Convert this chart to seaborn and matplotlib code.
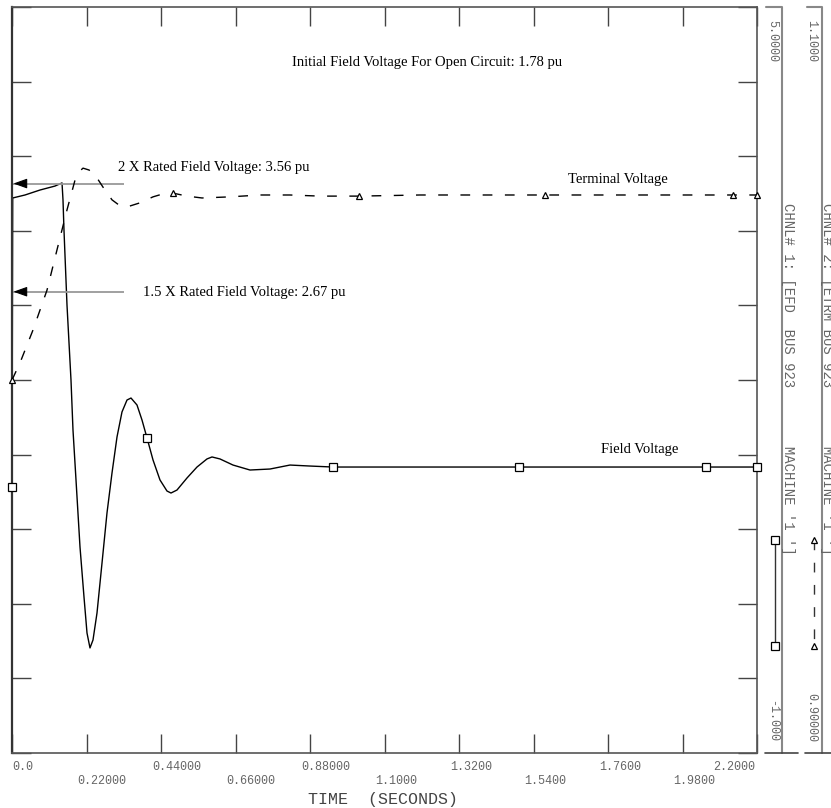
import matplotlib
matplotlib.use('Agg')
import matplotlib.pyplot as plt
from matplotlib.lines import Line2D
import seaborn as sns

# values (PSS/E style channel plot)
# channel 1: EFD, field voltage, scale -1 .. 5
efd_time = [0.0, 0.002, 0.0384, 0.0827, 0.127, 0.1477, 0.1506, 0.1536, 0.1624,
            0.1742, 0.1801, 0.189, 0.2008, 0.2126, 0.2215, 0.2303, 0.2392, 0.251,
            0.2658, 0.2805, 0.2953, 0.3101, 0.3248, 0.3396, 0.3514, 0.3691, 0.3839,
            0.3987, 0.4164, 0.437, 0.4577, 0.4695, 0.4872, 0.5168, 0.5463, 0.5758,
            0.5906, 0.6142, 0.6526, 0.7028, 0.7619, 0.8209, 0.88, 0.948, 2.2]
efd_value = [1.139, 3.464, 3.488, 3.528, 3.560, 3.585, 3.448, 3.199, 2.603,
             2.0, 1.598, 1.196, 0.657, 0.255, -0.035, -0.155, -0.091, 0.126,
             0.528, 0.930, 1.252, 1.542, 1.743, 1.839, 1.855, 1.799, 1.678,
             1.534, 1.357, 1.196, 1.107, 1.091, 1.115, 1.212, 1.300, 1.365,
             1.381, 1.365, 1.316, 1.276, 1.284, 1.316, 1.308, 1.300, 1.300]

# channel 2: ETRM, terminal voltage, scale 0.9 .. 1.1
etrm_time = [0.0, 0.0236, 0.062, 0.1034, 0.1329, 0.1624, 0.1861, 0.1979, 0.2097,
             0.2274, 0.2451, 0.2688, 0.2953, 0.316, 0.3396, 0.378, 0.4164, 0.4459,
             0.4754, 0.5168, 0.5611, 0.6438, 0.7324, 0.8209, 0.9095, 1.0247,
             1.2048, 1.4411, 1.574, 1.8545, 2.1291, 2.2]
etrm_value = [1.0, 1.0046, 1.0134, 1.0241, 1.0349, 1.0456, 1.0536, 1.0558, 1.0568,
              1.0563, 1.0550, 1.0517, 1.0483, 1.0469, 1.0464, 1.0475, 1.0491, 1.0499,
              1.0501, 1.0493, 1.0488, 1.0491, 1.0496, 1.0496, 1.0493, 1.0493,
              1.0496, 1.0496, 1.0496, 1.0496, 1.0496, 1.0496]

efd_mark_time = [0.0, 0.3987, 0.948, 1.497, 2.05, 2.2]
efd_mark_value = [1.139, 1.534, 1.300, 1.300, 1.300, 1.300]
etrm_mark_time = [0.0, 0.4754, 1.0247, 1.574, 2.1291, 2.2]
etrm_mark_value = [1.0, 1.0501, 1.0493, 1.0496, 1.0496, 1.0496]

ref_levels = [3.58, 2.71]
ref_labels = ['2 X Rated Field Voltage: 3.56 pu', '1.5 X Rated Field Voltage: 2.67 pu']

x_ticks = [0.0, 0.22, 0.44, 0.66, 0.88, 1.10, 1.32, 1.54, 1.76, 1.98, 2.20]
x_tick_labels = ['0.0', '0.22000', '0.44000', '0.66000', '0.88000', '1.1000',
                 '1.3200', '1.5400', '1.7600', '1.9800', '2.2000']
y_ticks = [-1.0, -0.4, 0.2, 0.8, 1.4, 2.0, 2.6, 3.2, 3.8, 4.4, 5.0]

efd_range = (-1.0, 5.0)
etrm_range = (0.9, 1.1)
chnl_labels = ["CHNL# 1: [EFD  BUS 923       MACHINE '1 ']",
               "CHNL# 2: [ETRM BUS 923       MACHINE '1 ']"]
range_labels = [('5.0000', '-1.000'), ('1.1000', '0.90000')]

W, H = 831, 808
SERIF = 'Liberation Serif'
MONO = 'Liberation Mono'
GRAY = '#666666'


def fpx(x, y):
    # pixel position -> figure fraction
    return x / W, 1 - y / H


sns.set_theme(style='white')
fig = plt.figure(figsize=(W / 100, H / 100), dpi=100)
ax = fig.add_axes([12 / W, 1 - 753 / H, 745 / W, 746 / H])
ax2 = ax.twinx()

sns.lineplot(x=efd_time, y=efd_value, ax=ax, color='black', lw=1.0,
             sort=False, estimator=None)
sns.lineplot(x=etrm_time, y=etrm_value, ax=ax2, color='black', lw=1.0,
             sort=False, estimator=None, linestyle=(0, (7, 9)))
ax.plot(efd_mark_time, efd_mark_value, ls='none', marker='s', ms=5.5,
        mfc='white', mec='black', mew=0.9, clip_on=False, zorder=5)
ax2.plot(etrm_mark_time, etrm_mark_value, ls='none', marker='^', ms=5,
         mfc='white', mec='black', mew=0.9, clip_on=False, zorder=5)

ax.set_xlim(0, 2.2)
ax.set_ylim(*efd_range)
ax2.set_ylim(*etrm_range)
ax.set_xticks(x_ticks)
ax.set_yticks(y_ticks)
ax.set_xlabel('')
ax.set_ylabel('')
ax.tick_params(direction='in', length=14, width=1.0, color='#444444',
               top=True, right=True, bottom=True, left=True,
               labelleft=False, labelbottom=False)
ax2.set_yticks([])
ax2.set_ylabel('')
for s in ax2.spines.values():
    s.set_visible(False)
for side, s in ax.spines.items():
    s.set_color('#555555')
    s.set_linewidth(1.2)
ax.spines['left'].set_color('#333333')
ax.spines['left'].set_linewidth(1.6)

# staggered x tick labels
for i, (t, lab) in enumerate(zip(x_ticks, x_tick_labels)):
    row_off = -6 if i % 2 == 0 else -15.5
    ha = 'left'
    dx = -6.5
    if i == 0:
        dx = 0
    if i == len(x_ticks) - 1:
        ha, dx = 'right', -1.5
    ax.annotate(lab, xy=(t, 0), xycoords=('data', 'axes fraction'),
                xytext=(dx, row_off), textcoords='offset points',
                ha=ha, va='top', fontsize=8.5, family=MONO, color=GRAY)

fig.text(*fpx(383, 792), 'TIME  (SECONDS)', ha='center', va='top',
         fontsize=12, family=MONO, color='#444444')

# reference level arrows
for lvl in ref_levels:
    ax.hlines(lvl, 0.004, 0.331, color='#999999', lw=1.3)
    ax.annotate('', xy=(0.004, lvl), xytext=(0.035, lvl),
                arrowprops=dict(arrowstyle='-|>,head_length=0.7,head_width=0.25',
                                color='black', lw=0.8, shrinkA=0, shrinkB=0))
ax.text(0.313, 3.713, ref_labels[0], ha='left', va='center',
        fontsize=10.5, family=SERIF, color='black')
ax.text(0.387, 2.70, ref_labels[1], ha='left', va='center',
        fontsize=10.5, family=SERIF, color='black')
ax.text(0.827, 4.55, 'Initial Field Voltage For Open Circuit: 1.78 pu',
        ha='left', va='center', fontsize=10.5, family=SERIF, color='black')
ax.text(1.79, 3.609, 'Terminal Voltage', ha='center', va='center',
        fontsize=10.5, family=SERIF, color='black')
ax.text(1.855, 1.437, 'Field Voltage', ha='center', va='center',
        fontsize=10.5, family=SERIF, color='black')

# channel strips on the right
strip_col = '#888888'
for line_x, top_x0, bot_x0, bot_x1 in [(782, 766, 765, 798), (822, 807, 805, 831)]:
    fig.add_artist(Line2D([top_x0 / W, line_x / W, line_x / W],
                          [1 - 7 / H, 1 - 7 / H, 1 - 753 / H],
                          color=strip_col, lw=1.5))
    fig.add_artist(Line2D([bot_x0 / W, bot_x1 / W], [1 - 753 / H, 1 - 753 / H],
                          color='#444444', lw=1.2))

for (top_lab, bot_lab), lab_x in zip(range_labels, [772, 811]):
    fig.text(*fpx(lab_x, 20), top_lab, rotation=270, ha='center', va='top',
             fontsize=8.5, family=MONO, color=GRAY)
    fig.text(*fpx(lab_x, 742), bot_lab, rotation=270, ha='center', va='bottom',
             fontsize=8.5, family=MONO, color=GRAY)
for lab, chnl_x in zip(chnl_labels, [788, 827]):
    fig.text(*fpx(chnl_x, 203), lab, rotation=270, ha='center', va='top',
             fontsize=10, family=MONO, color=GRAY)

# legend samples
fig.add_artist(Line2D([775 / W, 775 / W], [1 - 540 / H, 1 - 646 / H], color='#333333',
                      lw=1.0, marker='s', ms=5.5, mfc='white', mec='black', mew=0.9))
fig.add_artist(Line2D([814 / W, 814 / W], [1 - 540 / H, 1 - 646 / H], color='#333333',
                      lw=1.0, ls=(0, (7, 9)), marker='^', ms=5, mfc='white',
                      mec='black', mew=0.9))

fig.savefig('out.png', dpi=100)
